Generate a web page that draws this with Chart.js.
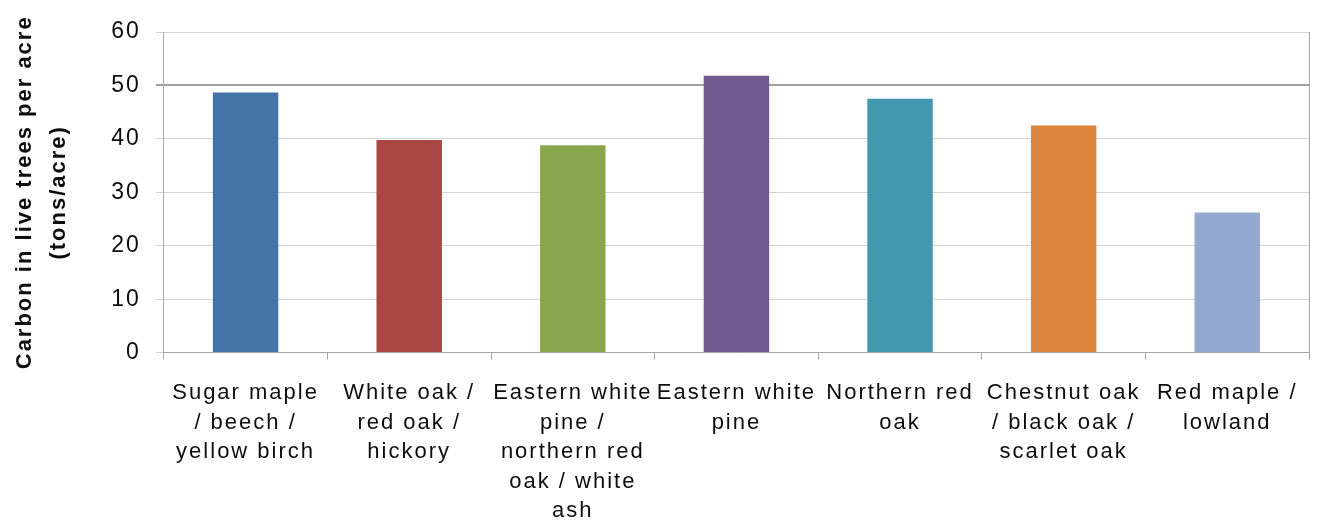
<!DOCTYPE html>
<html>
<head>
<meta charset="utf-8">
<script src="https://cdn.jsdelivr.net/npm/chart.js@4"></script>
<style>
    html, body { margin: 0; padding: 0; background: #fff; }
    #wrap { width: 1317px; height: 526px; position: relative; }
</style>
</head>
<body>
<div id="wrap"><canvas id="carbonChart"></canvas></div>
<script>
// forest type groups (multi-line, wrapped like the original)
const forestTypes = [
    ['Sugar maple', '/ beech /', 'yellow birch'],
    ['White oak /', 'red oak /', 'hickory'],
    ['Eastern white', 'pine /', 'northern red', 'oak / white', 'ash'],
    ['Eastern white', 'pine'],
    ['Northern red', 'oak'],
    ['Chestnut oak', '/ black oak /', 'scarlet oak'],
    ['Red maple /', 'lowland']
];
const carbonTons = [48.7, 39.8, 38.8, 51.8, 47.5, 42.5, 26.2];
const barColors = ['#4572A7', '#AA4643', '#89A54E', '#71588F', '#4198AF', '#DB843D', '#93A9CF'];
const yTicks = [0, 10, 20, 30, 40, 50, 60];
const yTitle = ['Carbon in live trees per acre', '(tons/acre)'];

const FONT = "'Liberation Sans', Arial, sans-serif";

// the original text is set quite loose, so widen it a bit
const looseText = {
    id: 'looseText',
    beforeUpdate(chart) { chart.ctx.letterSpacing = '2px'; },
    beforeDraw(chart) { chart.ctx.letterSpacing = '2px'; }
};

new Chart(document.getElementById('carbonChart'), {
    type: 'bar',
    data: {
        labels: forestTypes,
        datasets: [{
            data: carbonTons,
            backgroundColor: barColors,
            borderWidth: 0,
            barPercentage: 0.4,
            categoryPercentage: 1.0
        }]
    },
    plugins: [looseText],
    options: {
        responsive: true,
        maintainAspectRatio: false,
        animation: false,
        // chart.js reserves the tick padding twice below the x axis, give it back
        layout: { padding: { top: 32, right: 6, bottom: -19, left: 8 } },
        plugins: {
            legend: { display: false },
            tooltip: { enabled: false }
        },
        scales: {
            x: {
                offset: true,
                grid: {
                    offset: true,
                    drawOnChartArea: false,
                    tickLength: 7,
                    color: '#a6a6a6'
                },
                border: { color: '#a6a6a6' },
                ticks: {
                    color: '#0d0d0d',
                    maxRotation: 0,
                    autoSkip: false,
                    padding: 19,
                    font: { family: FONT, size: 22, lineHeight: 1.34 }
                }
            },
            y: {
                min: yTicks[0],
                max: yTicks[yTicks.length - 1],
                afterBuildTicks: axis => { axis.ticks = yTicks.map(v => ({ value: v })); },
                grid: {
                    color: ctx => ctx.tick && ctx.tick.value === 50 ? '#a0a0a0' : '#d4d4d4',
                    lineWidth: ctx => ctx.tick && ctx.tick.value === 50 ? 2 : 1,
                    tickLength: 8
                },
                border: { color: '#a6a6a6' },
                ticks: {
                    color: '#0d0d0d',
                    padding: 15,
                    font: { family: FONT, size: 23 }
                },
                title: {
                    display: true,
                    text: yTitle,
                    color: '#0d0d0d',
                    padding: { top: 0, bottom: 20 },
                    font: { family: FONT, size: 22, weight: 'bold', lineHeight: 1.55 }
                }
            },
            yRight: {
                position: 'right',
                min: 0,
                max: 60,
                ticks: { display: false },
                grid: { drawOnChartArea: false, drawTicks: false },
                border: { color: '#a6a6a6' }
            }
        }
    }
});
</script>
</body>
</html>
